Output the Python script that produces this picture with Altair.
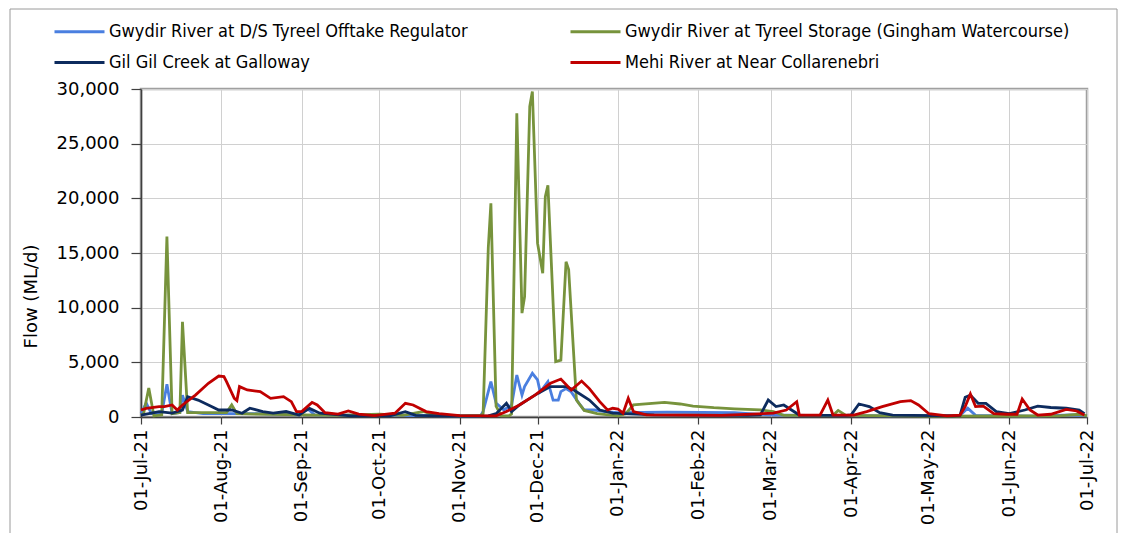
import altair as alt
import pandas as pd

SERIES = [
    "Gwydir River at D/S Tyreel Offtake Regulator",
    "Gil Gil Creek at Galloway",
    "Gwydir River at Tyreel Storage (Gingham Watercourse)",
    "Mehi River at Near Collarenebri",
]
COLORS = ["#4A7FE0", "#0D2B5E", "#77933C", "#C00000"]

MONTHS = [(2021, 7), (2021, 8), (2021, 9), (2021, 10), (2021, 11), (2021, 12),
          (2022, 1), (2022, 2), (2022, 3), (2022, 4), (2022, 5), (2022, 6), (2022, 7)]
Y_TICKS = [0, 5000, 10000, 15000, 20000, 25000, 30000]

blue_dates = ["2021-07-01", "2021-07-03", "2021-07-05", "2021-07-09", "2021-07-11", "2021-07-13",
              "2021-07-16", "2021-07-17", "2021-07-19", "2021-07-25", "2021-08-15", "2021-08-31",
              "2021-09-03", "2021-09-06", "2021-10-01", "2021-11-01", "2021-11-09", "2021-11-10",
              "2021-11-13", "2021-11-15", "2021-11-18", "2021-11-21", "2021-11-23", "2021-11-25",
              "2021-11-26", "2021-11-29", "2021-12-01", "2021-12-02", "2021-12-03", "2021-12-05",
              "2021-12-07", "2021-12-09", "2021-12-10", "2021-12-12", "2021-12-14", "2021-12-17",
              "2021-12-19", "2021-12-23", "2021-12-27", "2022-01-01", "2022-01-20", "2022-02-15",
              "2022-02-28", "2022-03-15", "2022-04-15", "2022-05-13", "2022-05-16", "2022-05-19",
              "2022-06-10", "2022-06-25", "2022-07-01"]
blue_vals = [300, 1280, 300, 300, 3000, 300, 400, 2000, 500, 300, 300, 200, 800, 200, 150, 100, 100,
             500, 3230, 1280, 640, 1100, 3840, 2000, 2780, 4000, 3390, 2320, 2600, 3230, 1550, 1550,
             2320, 2600, 2300, 1250, 640, 640, 500, 400, 450, 400, 200, 150, 100, 150, 800, 150, 80,
             200, 100]

green_dates = ["2021-07-01", "2021-07-02", "2021-07-04", "2021-07-06", "2021-07-09", "2021-07-11",
               "2021-07-13", "2021-07-16", "2021-07-17", "2021-07-19", "2021-07-25", "2021-08-03",
               "2021-08-05", "2021-08-07", "2021-08-20", "2021-09-01", "2021-09-15", "2021-10-01",
               "2021-10-10", "2021-10-18", "2021-10-22", "2021-11-01", "2021-11-09", "2021-11-10",
               "2021-11-12", "2021-11-13", "2021-11-15", "2021-11-17", "2021-11-20", "2021-11-21",
               "2021-11-23", "2021-11-25", "2021-11-26", "2021-11-28", "2021-11-29", "2021-12-01",
               "2021-12-03", "2021-12-04", "2021-12-05", "2021-12-08", "2021-12-10", "2021-12-12",
               "2021-12-13", "2021-12-16", "2021-12-19", "2021-12-24", "2022-01-01", "2022-01-04",
               "2022-01-07", "2022-01-19", "2022-01-25", "2022-01-30", "2022-02-07", "2022-02-15",
               "2022-02-25", "2022-03-02", "2022-03-06", "2022-03-25", "2022-03-27", "2022-03-30",
               "2022-05-01", "2022-06-20", "2022-06-28", "2022-07-01"]
green_vals = [200, 300, 2650, 100, 200, 16500, 300, 400, 8700, 400, 400, 400, 1100, 300, 250, 200,
              150, 250, 150, 500, 200, 100, 150, 300, 15500, 19550, 1000, 100, 100, 300, 27780, 9500,
              11000, 28400, 29770, 15900, 13150, 20150, 21200, 5060, 5200, 14200, 13500, 1550, 600,
              300, 100, 300, 1100, 1340, 1190, 1000, 850, 750, 650, 500, 150, 150, 600, 150, 80, 100,
              250, 100]

navy_dates = ["2021-07-01", "2021-07-08", "2021-07-13", "2021-07-17", "2021-07-19", "2021-07-23",
              "2021-07-27", "2021-07-31", "2021-08-05", "2021-08-09", "2021-08-12", "2021-08-17",
              "2021-08-21", "2021-08-26", "2021-08-31", "2021-09-04", "2021-09-08", "2021-09-20",
              "2021-10-05", "2021-10-11", "2021-10-15", "2021-11-01", "2021-11-12", "2021-11-15",
              "2021-11-19", "2021-11-21", "2021-11-24", "2021-11-30", "2021-12-06", "2021-12-12",
              "2021-12-15", "2021-12-21", "2021-12-25", "2021-12-30", "2022-01-15", "2022-02-20",
              "2022-02-25", "2022-02-28", "2022-03-03", "2022-03-06", "2022-03-09", "2022-03-12",
              "2022-03-30", "2022-04-01", "2022-04-04", "2022-04-08", "2022-04-12", "2022-04-17",
              "2022-05-10", "2022-05-13", "2022-05-15", "2022-05-17", "2022-05-20", "2022-05-23",
              "2022-05-27", "2022-06-01", "2022-06-07", "2022-06-12", "2022-06-17", "2022-06-23",
              "2022-06-28", "2022-06-30"]
navy_vals = [180, 490, 350, 640, 1860, 1550, 1100, 640, 640, 340, 800, 500, 350, 500, 180, 790, 350,
             100, 100, 490, 150, 80, 100, 300, 1250, 500, 1100, 2000, 2780, 2780, 2470, 1550, 640,
             350, 200, 150, 200, 1550, 950, 1100, 640, 180, 150, 200, 1190, 950, 400, 180, 100, 150,
             1800, 2000, 1250, 1250, 490, 300, 640, 1000, 870, 800, 640, 300]

red_dates = ["2021-07-01", "2021-07-03", "2021-07-08", "2021-07-10", "2021-07-13", "2021-07-15",
             "2021-07-17", "2021-07-22", "2021-07-27", "2021-07-31", "2021-08-02", "2021-08-03",
             "2021-08-06", "2021-08-07", "2021-08-08", "2021-08-11", "2021-08-16", "2021-08-20",
             "2021-08-25", "2021-08-28", "2021-08-30", "2021-09-01", "2021-09-05", "2021-09-07",
             "2021-09-10", "2021-09-15", "2021-09-19", "2021-09-23", "2021-09-29", "2021-10-07",
             "2021-10-11", "2021-10-14", "2021-10-19", "2021-10-24", "2021-11-01", "2021-11-15",
             "2021-11-19", "2021-11-24", "2021-11-30", "2021-12-06", "2021-12-10", "2021-12-14",
             "2021-12-18", "2021-12-21", "2021-12-25", "2021-12-28", "2021-12-30", "2022-01-01",
             "2022-01-03", "2022-01-05", "2022-01-07", "2022-01-12", "2022-02-10", "2022-03-02",
             "2022-03-07", "2022-03-11", "2022-03-12", "2022-03-20", "2022-03-23", "2022-03-25",
             "2022-04-02", "2022-04-07", "2022-04-13", "2022-04-20", "2022-04-24", "2022-04-27",
             "2022-05-01", "2022-05-08", "2022-05-13", "2022-05-15", "2022-05-17", "2022-05-19",
             "2022-05-22", "2022-05-26", "2022-05-31", "2022-06-04", "2022-06-06", "2022-06-09",
             "2022-06-12", "2022-06-17", "2022-06-23", "2022-06-27", "2022-06-30"]
red_vals = [640, 790, 950, 950, 1100, 640, 1100, 2000, 3080, 3750, 3700, 3230, 1710, 1500, 2780,
            2470, 2320, 1710, 1860, 1400, 500, 500, 1340, 1100, 400, 260, 550, 260, 120, 350, 1250,
            1100, 500, 300, 120, 100, 500, 1100, 2000, 3080, 3470, 2470, 3290, 2600, 1400, 640, 800,
            730, 350, 1710, 500, 200, 150, 350, 640, 1400, 180, 180, 1550, 180, 180, 490, 950, 1400,
            1500, 1100, 300, 100, 180, 950, 2100, 950, 1000, 300, 250, 250, 1650, 640, 180, 250,
            700, 550, 180]

BLUE, NAVY, GREEN, RED = SERIES
frames = []
for name, dates, vals in [(BLUE, blue_dates, blue_vals), (GREEN, green_dates, green_vals),
                          (NAVY, navy_dates, navy_vals), (RED, red_dates, red_vals)]:
    frames.append(pd.DataFrame({"date": [d + "T00:00:00" for d in dates], "flow": vals, "series": name}))

TICK_FONT = "DejaVu Sans"
LEGEND_FONT = "'Liberation Sans Narrow', 'DejaVu Sans Condensed', 'Liberation Sans', sans-serif"

x = alt.X(
    "date:T",
    scale=alt.Scale(domain=[alt.DateTime(year=2021, month=7, date=1),
                            alt.DateTime(year=2022, month=7, date=1)], nice=False),
    axis=alt.Axis(values=[alt.DateTime(year=yy, month=mm, date=1) for yy, mm in MONTHS],
                  format="%d-%b-%y", labelAngle=270, title=None, grid=True,
                  labelFont=TICK_FONT, labelFontSize=18, labelColor="#000000",
                  tickSize=7, labelPadding=5, labelFlush=False, labelOverlap=False),
)
y = alt.Y(
    "flow:Q",
    scale=alt.Scale(domain=[0, 30000], nice=False),
    axis=alt.Axis(values=Y_TICKS, format=",.0f", title="Flow (ML/d)", grid=True,
                  labelFont=TICK_FONT, labelFontSize=18, labelColor="#000000",
                  titleFont=TICK_FONT, titleFontSize=18, titleFontWeight="normal",
                  titleColor="#000000", titlePadding=16, titleY=207,
                  tickSize=10, labelPadding=12),
)
color = alt.Color(
    "series:N",
    scale=alt.Scale(domain=SERIES, range=COLORS),
    legend=alt.Legend(orient="none", legendX=-83, legendY=-79, columns=2, columnPadding=96,
                      rowPadding=0, symbolType="M-1.25,0H1.25", symbolSize=1600,
                      symbolStrokeWidth=3, labelFont=LEGEND_FONT, labelFontSize=18,
                      labelColor="#000000", labelOffset=8, labelLimit=0, title=None),
)

frame = alt.Chart(pd.DataFrame({"k": [0]})).mark_rect(
    fill="transparent", stroke="#9A9A9A", strokeWidth=1
).encode(x=alt.value(-131), x2=alt.value(976), y=alt.value(-80), y2=alt.value(500))

layers = [frame]
for f in frames:
    layers.append(alt.Chart(f).mark_line(strokeWidth=2.8).encode(x=x, y=y, color=color))

chart = alt.layer(*layers).properties(
    width=946, height=328,
    padding={"left": 133, "top": 81, "right": 31, "bottom": 116},
    autosize=alt.AutoSizeParams(type="none"),
    background="#FFFFFF",
).configure_view(
    stroke="#A0A0A0", strokeWidth=2.5
).configure_axis(
    gridColor="#D0D0D0", gridWidth=1, domainColor="#404040", domainWidth=1.5,
    tickColor="#404040", tickWidth=1.2
)

chart.save("out.html", embed_options={"renderer": "svg", "actions": False})
